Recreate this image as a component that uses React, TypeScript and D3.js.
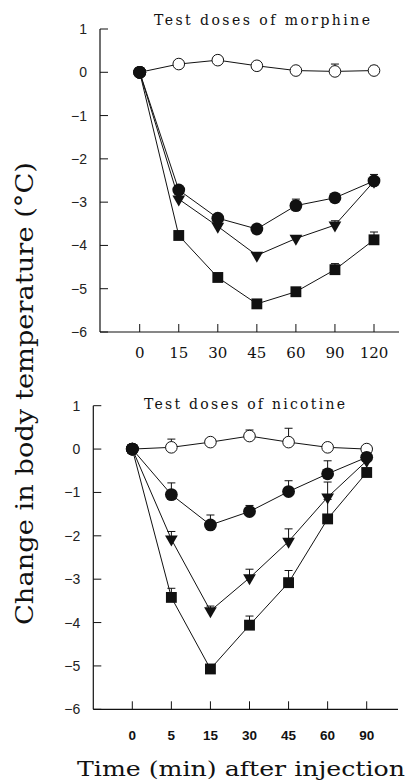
import React from "react";
import * as d3 from "d3";

// ---------- data ----------
const morphineTimes = ["0", "15", "30", "45", "60", "90", "120"];
const nicotineTimes = ["0", "5", "15", "30", "45", "60", "90"];
const yTicks = [1, 0, -1, -2, -3, -4, -5, -6];

// morphine panel
const morSaline = [0, 0.19, 0.28, 0.15, 0.04, 0.02, 0.04];
const morSalineErr = [0, 0, 0, 0, 0.05, 0.17, 0.1];
const morLow = [0, -2.72, -3.37, -3.62, -3.08, -2.9, -2.51];
const morLowErr = [0, 0, 0.08, 0.05, 0.15, 0.05, 0.15];
const morMid = [0, -2.93, -3.56, -4.23, -3.84, -3.53, -2.52];
const morMidErr = [0, 0, 0, 0.05, 0.05, 0.1, 0];
const morHigh = [0, -3.77, -4.74, -5.35, -5.07, -4.56, -3.87];
const morHighErr = [0, 0, 0, 0.08, 0, 0.14, 0.18];

// nicotine panel
const nicSaline = [0, 0.04, 0.16, 0.3, 0.16, 0.04, 0];
const nicSalineErr = [0, 0.19, 0, 0.14, 0.32, 0.03, 0.05];
const nicLow = [0, -1.05, -1.75, -1.44, -0.98, -0.57, -0.19];
const nicLowErr = [0, 0.27, 0.23, 0.14, 0.25, 0.3, 0.1];
const nicMid = [0, -2.08, -3.73, -2.97, -2.13, -1.11, -0.27];
const nicMidErr = [0, 0.18, 0.11, 0.2, 0.29, 0.35, 0.1];
const nicHigh = [0, -3.42, -5.07, -4.06, -3.08, -1.61, -0.54];
const nicHighErr = [0, 0.21, 0.05, 0.21, 0.28, 0.45, 0.05];

type Kind = "open" | "circle" | "tri" | "square";

interface PanelProps {
  title: string;
  titleX: number;
  titleY: number;
  titleLen: number;
  times: string[];
  series: { kind: Kind; v: number[]; e: number[] }[];
  axisX: number;
  axisRight: number;
  yTop: number;
  yBottom: number;
  xFirst: number;
  xLast: number;
  serifTicks: boolean;
  tickLabelY: number;
}

const INK = "#111";

function marker(kind: Kind, x: number, y: number, key: string) {
  if (kind === "open")
    return <circle key={key} cx={x} cy={y} r={5.8} fill="#fff" stroke={INK} strokeWidth={1} />;
  if (kind === "circle")
    return <circle key={key} cx={x} cy={y} r={6.4} fill={INK} />;
  if (kind === "square") {
    const p = d3.symbol().type(d3.symbolSquare).size(118)();
    return <path key={key} d={p || ""} transform={`translate(${x},${y})`} fill={INK} />;
  }
  const p = d3.symbol().type(d3.symbolTriangle).size(70)();
  return <path key={key} d={p || ""} transform={`translate(${x},${y}) rotate(180)`} fill={INK} />;
}

function Panel(props: PanelProps) {
  const x = d3.scalePoint<string>().domain(props.times).range([props.xFirst, props.xLast]);
  const y = d3.scaleLinear().domain([-6, 1]).range([props.yBottom, props.yTop]);
  const line = d3
    .line<number>()
    .x((_, i) => x(props.times[i]) as number)
    .y((d) => y(d));
  const order: Kind[] = ["open", "square", "tri", "circle"];
  const sorted = [...props.series].sort((a, b) => order.indexOf(a.kind) - order.indexOf(b.kind));
  return (
    <g>
      <text
        x={props.titleX}
        y={props.titleY}
        textAnchor="middle"
        fontFamily="DejaVu Serif"
        fontSize={14}
        textLength={props.titleLen}
        lengthAdjust="spacing"
        fill={INK}
      >
        {props.title}
      </text>
      {/* axes */}
      <line x1={props.axisX} x2={props.axisX} y1={props.yTop} y2={props.yBottom} stroke={INK} strokeWidth={1.2} />
      <line x1={props.axisX} x2={props.axisRight} y1={props.yBottom} y2={props.yBottom} stroke={INK} strokeWidth={1.2} />
      {yTicks.map((t) => (
        <g key={"yt" + t}>
          <line x1={props.axisX} x2={props.axisX + 8} y1={y(t)} y2={y(t)} stroke={INK} strokeWidth={1} />
          <text
            x={props.axisX - 13}
            y={y(t)}
            dy="0.36em"
            textAnchor="end"
            fontFamily="Liberation Sans"
            fontSize={14}
            fill="#222"
          >
            {t < 0 ? "\u2212" + Math.abs(t) : String(t)}
          </text>
        </g>
      ))}
      {props.times.map((t) => (
        <g key={"xt" + t}>
          <line x1={x(t)} x2={x(t)} y1={props.yBottom} y2={props.yBottom - 8} stroke={INK} strokeWidth={1} />
          <text
            x={x(t)}
            y={props.tickLabelY}
            textAnchor="middle"
            fontFamily={props.serifTicks ? "DejaVu Serif" : "Liberation Sans"}
            fontWeight={props.serifTicks ? 400 : 700}
            fontSize={props.serifTicks ? 15 : 13.5}
            fill={INK}
          >
            {t}
          </text>
        </g>
      ))}
      {/* lines */}
      {props.series.map((s, i) => (
        <path key={"l" + i} d={line(s.v) || ""} fill="none" stroke={INK} strokeWidth={1} />
      ))}
      {/* error bars */}
      {props.series.map((s, i) =>
        s.v.map((v, j) =>
          s.e[j] > 0 ? (
            <g key={`e${i}-${j}`}>
              <line x1={x(props.times[j])} x2={x(props.times[j])} y1={y(v)} y2={y(v + s.e[j])} stroke={INK} strokeWidth={1} />
              <line
                x1={(x(props.times[j]) as number) - 4}
                x2={(x(props.times[j]) as number) + 4}
                y1={y(v + s.e[j])}
                y2={y(v + s.e[j])}
                stroke={INK}
                strokeWidth={1}
              />
            </g>
          ) : null
        )
      )}
      {/* markers */}
      {sorted.map((s, i) =>
        s.v.map((v, j) => {
          const kind: Kind = j === 0 ? "circle" : s.kind;
          return marker(kind, x(props.times[j]) as number, y(v), `m${i}-${j}`);
        })
      )}
    </g>
  );
}

export default function App() {
  return (
    <svg
      width={408}
      height={781}
      style={{ position: "absolute", left: 0, top: 0, background: "#fff" }}
    >
      <rect width={408} height={781} fill="#fff" />
      <Panel
        title="Test doses of morphine"
        titleX={262}
        titleY={25}
        titleLen={216}
        times={morphineTimes}
        series={[
          { kind: "open", v: morSaline, e: morSalineErr },
          { kind: "circle", v: morLow, e: morLowErr },
          { kind: "tri", v: morMid, e: morMidErr },
          { kind: "square", v: morHigh, e: morHighErr },
        ]}
        axisX={100}
        axisRight={399}
        yTop={29}
        yBottom={332}
        xFirst={139.7}
        xLast={374}
        serifTicks={true}
        tickLabelY={358}
      />
      <Panel
        title="Test doses of nicotine"
        titleX={244.5}
        titleY={409}
        titleLen={201}
        times={nicotineTimes}
        series={[
          { kind: "open", v: nicSaline, e: nicSalineErr },
          { kind: "circle", v: nicLow, e: nicLowErr },
          { kind: "tri", v: nicMid, e: nicMidErr },
          { kind: "square", v: nicHigh, e: nicHighErr },
        ]}
        axisX={93.3}
        axisRight={398}
        yTop={405.7}
        yBottom={709.3}
        xFirst={132.3}
        xLast={366.7}
        serifTicks={false}
        tickLabelY={740}
      />
      <text
        transform="translate(33,393.5) rotate(-90)"
        textAnchor="middle"
        fontFamily="DejaVu Serif"
        fontSize={25}
        textLength={463}
        lengthAdjust="spacingAndGlyphs"
        fill={INK}
      >
        Change in body temperature (°C)
      </text>
      <text
        x={241}
        y={776}
        textAnchor="middle"
        fontFamily="DejaVu Serif"
        fontSize={21}
        textLength={328}
        lengthAdjust="spacingAndGlyphs"
        fill={INK}
      >
        Time (min) after injection
      </text>
    </svg>
  );
}
